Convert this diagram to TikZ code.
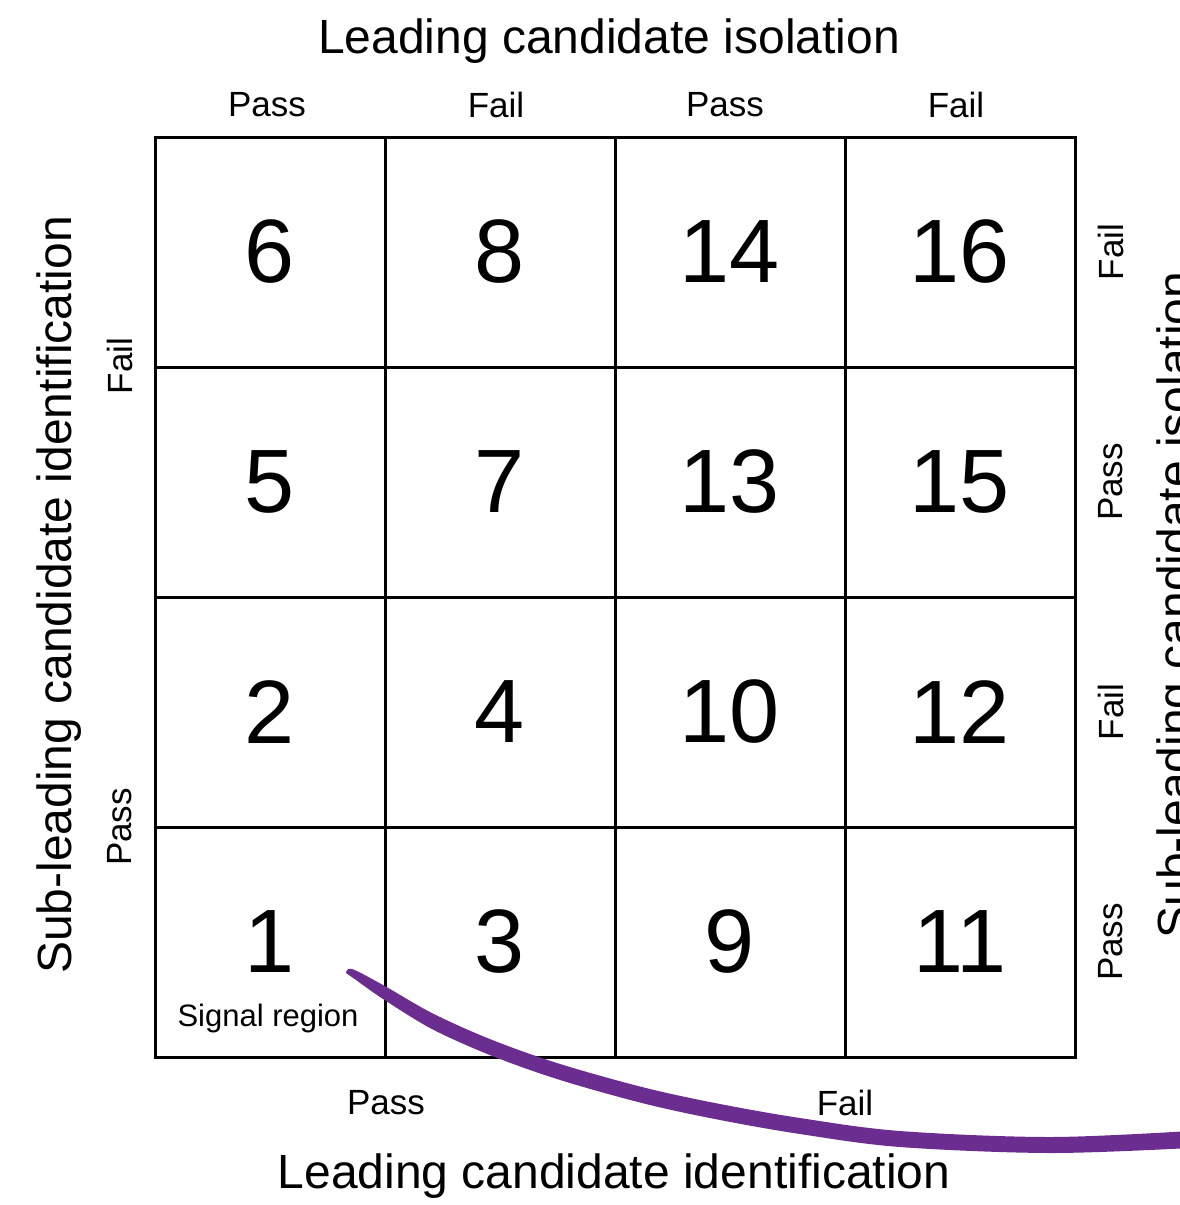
\documentclass[tikz,border=0pt]{standalone}
\usepackage{fontspec}
\setmainfont{Liberation Sans}
\definecolor{strokepurple}{RGB}{107,45,143}
\begin{document}
\begin{tikzpicture}[x=1pt,y=-1pt,
  cell/.style={draw,line width=3pt,minimum width=230pt,minimum height=230pt,inner sep=0pt,
    font=\fontsize{90}{90}\selectfont},
  lbl/.style={inner sep=0pt,font=\fontsize{35}{35}\selectfont},
  ttl/.style={inner sep=0pt,font=\fontsize{48}{48}\selectfont},
  note/.style={inner sep=0pt,font=\fontsize{31}{31}\selectfont}]
\useasboundingbox (0,0) rectangle (1180,1205);

% 4x4 grid of regions
\node[cell] (c6)  at (270,252) {6};
\node[cell] (c8)  at (500,252) {8};
\node[cell] (c14) at (730,252) {14};
\node[cell] (c16) at (960,252) {16};
\node[cell] (c5)  at (270,482) {5};
\node[cell] (c7)  at (500,482) {7};
\node[cell] (c13) at (730,482) {13};
\node[cell] (c15) at (960,482) {15};
\node[cell] (c2)  at (270,712) {2};
\node[cell] (c4)  at (500,712) {4};
\node[cell] (c10) at (730,712) {10};
\node[cell] (c12) at (960,712) {12};
\node[cell] (c1)  at (270,942) {1};
\node[cell] (c3)  at (500,942) {3};
\node[cell] (c9)  at (730,942) {9};
\node[cell] (c11) at (960,942) {11};
\node[note] (sig) at (268,1018) {Signal region};

% top axis
\node[ttl] (ttop) at (609,41) {Leading candidate isolation};
\node[lbl] (t1) at (267,105) {Pass};
\node[lbl] (t2) at (496,105) {Fail};
\node[lbl] (t3) at (725,105) {Pass};
\node[lbl] (t4) at (956,105) {Fail};

% bottom axis
\node[lbl] (b1) at (386,1103) {Pass};
\node[lbl] (b2) at (845,1103) {Fail};
\node[ttl] (tbot) at (614,1176) {Leading candidate identification};

% left axis
\node[ttl,rotate=90] (tleft) at (59,595) {Sub-leading candidate identification};
\node[lbl,rotate=90] (l1) at (120,366) {Fail};
\node[lbl,rotate=90] (l2) at (120,827) {Pass};

% right axis
\node[lbl,rotate=90] (r1) at (1111,252) {Fail};
\node[lbl,rotate=90] (r2) at (1111,482) {Pass};
\node[lbl,rotate=90] (r3) at (1111,712) {Fail};
\node[lbl,rotate=90] (r4) at (1111,942) {Pass};
\node[ttl,rotate=90,anchor=north] (tright) at (1157,605) {Sub-leading candidate isolation};

% hand-drawn purple stroke, tapered at its start
\fill[strokepurple]
  plot[smooth,tension=0.55] coordinates {(346,973) (352,969) (383,985) (430,1012) (480,1035)
    (530,1054) (580,1070) (650,1089) (720,1104) (800,1118) (900,1131) (1050,1137) (1190,1131)}
  -- plot[smooth,tension=0.55] coordinates {(1190,1148) (1050,1153) (900,1147) (800,1134)
    (720,1120) (650,1105) (580,1086) (530,1070) (480,1051) (430,1028) (383,999) (356,980) (346,973)}
  -- cycle;
\end{tikzpicture}
\end{document}
